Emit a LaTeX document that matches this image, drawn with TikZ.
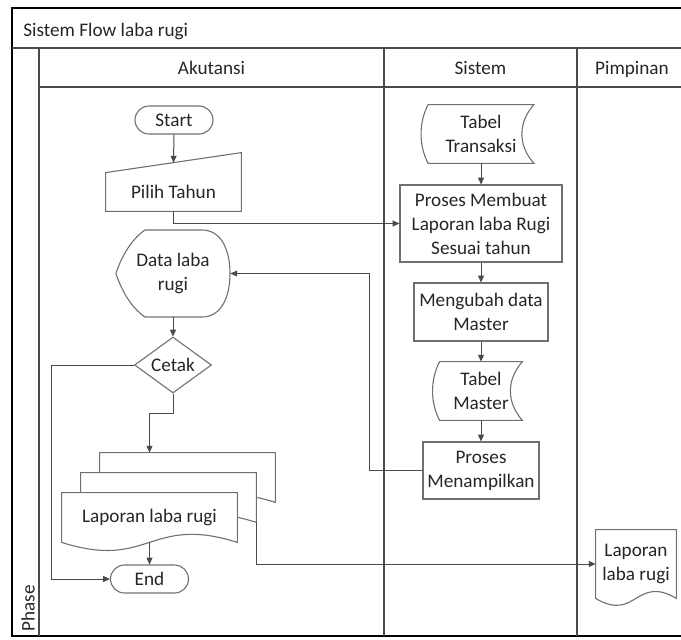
\documentclass[tikz,border=0pt]{standalone}
\usepackage{fontspec}
\setmainfont{Carlito}
\usetikzlibrary{shapes.geometric,arrows.meta,calc,backgrounds}
\definecolor{garis}{HTML}{707070}
\definecolor{alurcol}{HTML}{4A4A4A}
\definecolor{lajur}{HTML}{4A4A4A}
% bentuk dokumen (sisi bawah bergelombang)
\newcommand\dokumen[2][14pt]{%
	\draw[bentuk,fill=white] (#2.south east) -- (#2.north east) -- (#2.north west) -- (#2.south west)
	.. controls ($(#2.south)+(0pt,-#1)$) and ($(#2.south)+(0pt,#1)$) .. (#2.south east) -- cycle;}
% bentuk stored data
\newcommand\simpan[1]{%
	\draw[bentuk] (#1.north west) -- (#1.north east)
	.. controls +(-8pt,-9pt) and +(-8pt,9pt) .. (#1.south east) -- (#1.south west)
	.. controls +(-4.7pt,9pt) and +(-4.7pt,-9pt) .. (#1.north west) -- cycle;}
\begin{document}
\begin{tikzpicture}[x=0.5pt,y=-0.5pt,line cap=butt,line join=miter,
	font=\fontsize{9.6}{12}\selectfont,text=black!85,
	every node/.style={inner sep=1pt,align=center},
	bentuk/.style={draw=garis,line width=0.55pt},
	terminal/.style={bentuk,draw,rounded corners=7pt,minimum width=39pt,minimum height=14pt},
	proses/.style 2 args={bentuk,draw,minimum width=#1,minimum height=#2},
	kosong/.style 2 args={minimum width=#1,minimum height=#2},
	keputusan/.style={bentuk,draw,shape=diamond,aspect=1.4,inner sep=0pt,minimum width=38.5pt,minimum height=28pt},
	alur/.style={draw=alurcol,line width=0.5pt,-{Triangle[length=3.4pt,width=3pt]}},
	lane/.style={draw=lajur,line width=0.6pt}]
	\useasboundingbox (0,0) rectangle (681,639);
	%--------- Swimlane
	\draw[lane,draw=black,line width=1.2pt] (681,8) -- (12,8) -- (12,636) -- (681,636);
	\draw[lane] (12,48) -- (681,48);
	\draw[lane] (39,87) -- (681,87);
	\foreach \x in {39,384,577} \draw[lane] (\x,48) -- (\x,636);
	\node[anchor=base west] (judul) at (21,36) {Sistem Flow laba rugi};
	\node[anchor=base] (hakun) at (211.5,74) {Akutansi};
	\node[anchor=base] (hsis) at (480.5,74) {Sistem};
	\node[anchor=base] (hpim) at (632,74) {Pimpinan};
	\node[rotate=90,anchor=west] (fase) at (28,634) {Phase};
	%--------- Akutansi
	\node[terminal] (start) at (174,120) {Start};
	\node[kosong={67.5pt}{19pt}] (pilih) at (173.5,192) {Pilih Tahun};
	\draw[bentuk] (pilih.north west) -- ([yshift=10pt]pilih.north east) -- (pilih.south east) -- (pilih.south west) -- cycle;
	\node[kosong={57pt}{43.5pt}] (dlr) at (173,273.5) {Data laba\\rugi};
	\draw[bentuk,shift={(dlr.center)}] (-14pt,21.75pt) -- (14.5pt,21.75pt)
		.. controls (24pt,21.75pt) and (28.5pt,12pt) .. (28.5pt,0pt)
		.. controls (28.5pt,-12pt) and (24pt,-21.75pt) .. (14.5pt,-21.75pt) -- (-14pt,-21.75pt)
		.. controls (-21pt,-17pt) and (-26pt,-8pt) .. (-28.5pt,0pt)
		.. controls (-26pt,8pt) and (-21pt,17pt) .. (-14pt,21.75pt) -- cycle;
	\node[keputusan] (cetak) at (173,365) {Cetak};
	\node[kosong={87.5pt}{24.5pt}] (lapback) at (187.5,477.5) {};
	\node[kosong={87.5pt}{24.5pt}] (lapmid) at (168.5,497.5) {};
	\node[kosong={87.5pt}{24.5pt}] (lapdoc) at (149.5,517.5) {Laporan laba rugi};
	\begin{pgfonlayer}{background}
		\dokumen{lapback}
		\dokumen{lapmid}
		\dokumen{lapdoc}
	\end{pgfonlayer}
	\node[terminal] (end) at (149.5,579) {End};
	%--------- Sistem
	\node[kosong={52.5pt}{29pt}] (ttrans) at (481,134) {Tabel\\Transaksi};
	\simpan{ttrans}
	\node[proses={81pt}{38.5pt}] (pmembuat) at (481,223.5) {Proses Membuat\\Laporan laba Rugi\\Sesuai tahun};
	\node[proses={67pt}{29pt}] (mengubah) at (481,312) {Mengubah data\\Master};
	\node[kosong={41pt}{29pt}] (tmaster) at (481,391) {Tabel\\Master};
	\simpan{tmaster}
	\node[proses={58pt}{28.5pt}] (pmenampil) at (481,470.5) {Proses\\Menampilkan};
	%--------- Pimpinan
	\node[kosong={40pt}{34pt}] (lappim) at (636,564) {Laporan\\laba rugi};
	\begin{pgfonlayer}{background}
		\dokumen[12pt]{lappim}
	\end{pgfonlayer}
	%--------- Alur
	\draw[alur] (start.south) -- ($(pilih.north west)!.5!([yshift=10pt]pilih.north east)$);
	\draw[alur] (pilih.south) |- (pmembuat.west);
	\draw[alur] (ttrans) -- (pmembuat);
	\draw[alur] (pmembuat) -- (mengubah);
	\draw[alur] (mengubah) -- (tmaster);
	\draw[alur] (tmaster) -- (pmenampil);
	\draw[alur] (pmenampil.west) -- ++(-53,0) |- (dlr.east);
	\draw[alur] (dlr) -- (cetak);
	\draw[alur] (cetak.west) -- ++(-82,0) |- (end.west);
	\draw[alur] (cetak.south) -- ++(0,20) -| (lapdoc.north |- lapback.north);
	\draw[alur] (lapdoc.south) -- (end.north);
	\draw[alur] (lapmid.south east) |- (lappim.west);
\end{tikzpicture}
\end{document}
